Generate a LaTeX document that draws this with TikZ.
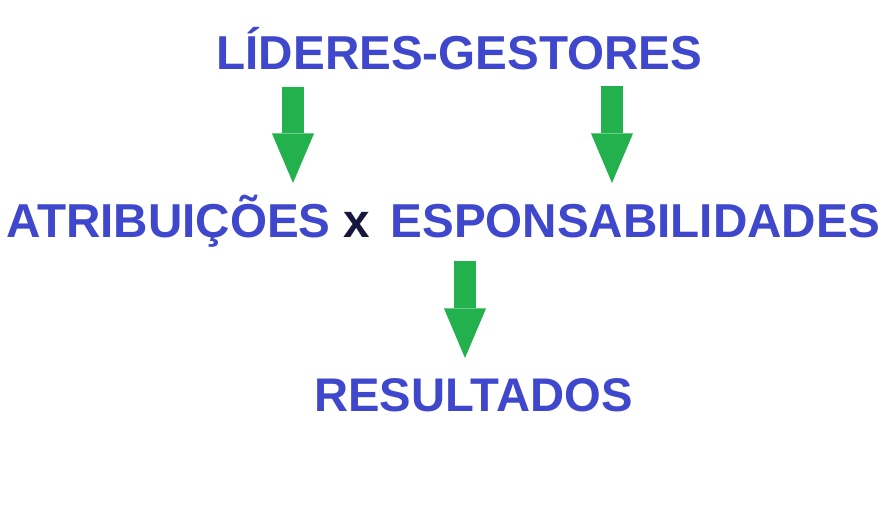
\documentclass[tikz,border=0pt]{standalone}
\usepackage{fontspec}
\setmainfont{Liberation Sans}
\usetikzlibrary{arrows.meta}
\begin{document}
\begin{tikzpicture}[x=1pt,y=1pt,font=\bfseries]
  \definecolor{ink}{HTML}{3F48CC}
  \definecolor{cross}{HTML}{15173D}
  \definecolor{leaf}{HTML}{22B14C}
  \tikzset{word/.style={text=ink,inner sep=0pt,anchor=base,font=\bfseries\fontsize{47.6}{50}\selectfont},
    blockarrow/.style={draw=leaf,line width=21.5pt,-{Triangle[width=42pt,length=49.5pt,line width=0pt]}}}
  \useasboundingbox[fill=white] (0,0) rectangle (894,524);
  \node[word] (leaders) at (459.5,454) {LÍDERES-GESTORES};
  \node[word,anchor=base west] (duties) at (6,286) {ATRIBUIÇÕES {\color{cross}x}\hspace{7pt} ESPONSABILIDADES};
  \node[word,font=\bfseries\fontsize{47.2}{50}\selectfont] (results) at (473.5,112) {RESULTADOS};
  \coordinate (leftTop) at (293,437);
  \coordinate (leftTip) at (293,341);
  \coordinate (rightTop) at (612,438);
  \coordinate (rightTip) at (612,341);
  \coordinate (midTop) at (465,263);
  \coordinate (midTip) at (465,166);
  \draw[blockarrow] (leftTop) -- (leftTip);
  \draw[blockarrow] (rightTop) -- (rightTip);
  \draw[blockarrow] (midTop) -- (midTip);
\end{tikzpicture}
\end{document}
